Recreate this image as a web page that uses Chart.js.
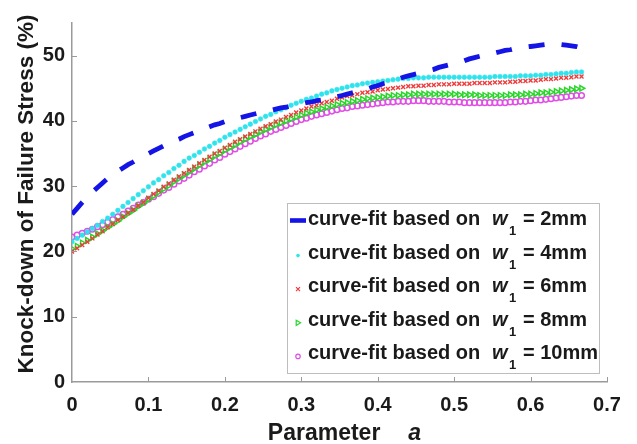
<!DOCTYPE html>
<html>
<head>
<meta charset="utf-8">
<script src="https://cdn.jsdelivr.net/npm/chart.js@4.4.1/dist/chart.umd.min.js"></script>
<style>
  html, body { margin: 0; padding: 0; background: #ffffff; }
  #wrap { width: 637px; height: 444px; position: relative; }
</style>
</head>
<body>
<div id="wrap"><canvas id="chart"></canvas></div>
<script>
// Sampling of the parameter a (0 .. 2/3, 101 fit points)
const paramA = Array.from({ length: 101 }, (_, i) => i / 150);

// Axis ticks
const xTicks = [0, 0.1, 0.2, 0.3, 0.4, 0.5, 0.6, 0.7];
const yTicks = [0, 10, 20, 30, 40, 50];

// Strip widths shown in the legend
const stripWidths = ['2mm', '4mm', '6mm', '8mm', '10mm'];

// Knock-down of failure stress (%) from each curve fit
const fit2mm = [
  25.7, 26.6, 27.5, 28.3, 29.1, 29.8, 30.5, 31.2, 31.8, 32.3,
  32.8, 33.3, 33.7, 34.2, 34.6, 35.0, 35.4, 35.8, 36.2, 36.5,
  36.9, 37.2, 37.6, 37.9, 38.2, 38.5, 38.8, 39.1, 39.4, 39.6,
  39.9, 40.1, 40.3, 40.5, 40.7, 40.9, 41.1, 41.3, 41.5, 41.6,
  41.8, 42.0, 42.1, 42.3, 42.5, 42.6, 42.8, 42.9, 43.1, 43.2,
  43.4, 43.5, 43.7, 43.9, 44.1, 44.3, 44.5, 44.7, 44.9, 45.2,
  45.4, 45.7, 45.9, 46.2, 46.4, 46.7, 46.9, 47.1, 47.3, 47.5,
  47.7, 47.9, 48.2, 48.4, 48.6, 48.8, 49.0, 49.2, 49.5, 49.7,
  49.9, 50.1, 50.3, 50.4, 50.6, 50.8, 50.9, 51.1, 51.2, 51.3,
  51.4, 51.5, 51.6, 51.7, 51.7, 51.7, 51.7, 51.6, 51.5, 51.4, 51.2
];
const fit4mm = [
  21.5, 22.0, 22.5, 23.0, 23.5, 24.0, 24.6, 25.1, 25.7, 26.3,
  26.9, 27.5, 28.1, 28.7, 29.3, 29.9, 30.5, 31.0, 31.6, 32.1,
  32.7, 33.2, 33.8, 34.3, 34.7, 35.2, 35.7, 36.1, 36.6, 37.0,
  37.5, 37.9, 38.3, 38.7, 39.1, 39.5, 39.9, 40.3, 40.7, 41.0,
  41.4, 41.7, 42.0, 42.4, 42.7, 43.0, 43.3, 43.5, 43.8, 44.1,
  44.3, 44.6, 44.8, 45.0, 45.2, 45.4, 45.5, 45.7, 45.8, 45.9,
  46.0, 46.1, 46.2, 46.3, 46.4, 46.5, 46.5, 46.6, 46.6, 46.6,
  46.7, 46.7, 46.7, 46.7, 46.7, 46.7, 46.7, 46.7, 46.7, 46.7,
  46.7, 46.7, 46.7, 46.8, 46.8, 46.8, 46.8, 46.8, 46.9, 46.9,
  46.9, 47.0, 47.0, 47.1, 47.1, 47.2, 47.3, 47.3, 47.4, 47.5, 47.5
];
const fit6mm = [
  20.0, 20.5, 21.0, 21.5, 22.0, 22.6, 23.1, 23.7, 24.2, 24.8,
  25.3, 25.9, 26.4, 27.0, 27.5, 28.2, 28.8, 29.3, 29.9, 30.4,
  31.0, 31.5, 32.0, 32.5, 33.0, 33.5, 34.0, 34.5, 35.0, 35.4,
  35.9, 36.3, 36.8, 37.2, 37.6, 38.0, 38.4, 38.8, 39.2, 39.5,
  39.9, 40.2, 40.6, 40.9, 41.3, 41.6, 41.9, 42.2, 42.4, 42.7,
  42.9, 43.1, 43.4, 43.6, 43.8, 43.9, 44.1, 44.3, 44.4, 44.5,
  44.7, 44.8, 44.9, 45.0, 45.1, 45.2, 45.3, 45.3, 45.4, 45.4,
  45.5, 45.5, 45.6, 45.6, 45.6, 45.7, 45.7, 45.7, 45.7, 45.8,
  45.8, 45.8, 45.8, 45.9, 45.9, 45.9, 46.0, 46.0, 46.1, 46.1,
  46.2, 46.2, 46.3, 46.4, 46.4, 46.5, 46.6, 46.6, 46.7, 46.8, 46.8
];
const fit8mm = [
  20.4, 20.8, 21.3, 21.7, 22.2, 22.7, 23.2, 23.7, 24.2, 24.7,
  25.3, 25.8, 26.3, 26.9, 27.4, 28.0, 28.5, 29.1, 29.6, 30.1,
  30.7, 31.2, 31.7, 32.2, 32.7, 33.2, 33.7, 34.1, 34.6, 35.0,
  35.5, 35.9, 36.3, 36.8, 37.2, 37.6, 37.9, 38.3, 38.7, 39.0,
  39.4, 39.7, 40.0, 40.3, 40.6, 40.9, 41.2, 41.4, 41.7, 41.9,
  42.1, 42.3, 42.5, 42.7, 42.8, 43.0, 43.1, 43.3, 43.4, 43.5,
  43.6, 43.7, 43.8, 43.9, 43.9, 44.0, 44.0, 44.1, 44.1, 44.1,
  44.1, 44.1, 44.1, 44.1, 44.1, 44.1, 44.0, 44.0, 44.0, 44.0,
  43.9, 43.9, 43.9, 43.9, 43.9, 43.9, 44.0, 44.0, 44.0, 44.1,
  44.1, 44.2, 44.3, 44.3, 44.4, 44.5, 44.6, 44.7, 44.8, 44.9, 45.0
];
const fit10mm = [
  22.2, 22.5, 22.8, 23.1, 23.4, 23.8, 24.1, 24.5, 24.9, 25.3,
  25.7, 26.2, 26.6, 27.1, 27.5, 28.0, 28.4, 28.9, 29.4, 29.8,
  30.3, 30.8, 31.2, 31.7, 32.2, 32.6, 33.1, 33.5, 34.0, 34.4,
  34.9, 35.3, 35.7, 36.1, 36.5, 36.9, 37.3, 37.7, 38.0, 38.4,
  38.7, 39.0, 39.3, 39.6, 39.9, 40.2, 40.4, 40.7, 40.9, 41.1,
  41.3, 41.5, 41.7, 41.9, 42.0, 42.2, 42.3, 42.4, 42.5, 42.6,
  42.7, 42.8, 42.9, 42.9, 43.0, 43.0, 43.0, 43.1, 43.1, 43.1,
  43.0, 43.0, 43.0, 43.0, 42.9, 42.9, 42.9, 42.8, 42.8, 42.8,
  42.8, 42.8, 42.8, 42.8, 42.8, 42.8, 42.9, 42.9, 43.0, 43.0,
  43.1, 43.2, 43.2, 43.3, 43.4, 43.5, 43.6, 43.7, 43.8, 43.9, 43.9
];

const FONT = '"Liberation Sans", Arial, Helvetica, sans-serif';
const toPoints = (ys) => paramA.map((a, i) => ({ x: a, y: ys[i] }));

const seriesStyles = [
  { color: '#1414e6', line: true },
  { color: '#2ee3ec', pointStyle: 'circle', radius: 2.3, filled: true, border: 0.6 },
  { color: '#ee3c3c', pointStyle: 'crossRot', radius: 2.8, border: 1.4 },
  { color: '#2bd62b', pointStyle: 'triangle', radius: 3.2, rotation: 90, border: 1.5 },
  { color: '#e04ee6', pointStyle: 'circle', radius: 2.8, border: 1.5 }
];
const seriesValues = [fit2mm, fit4mm, fit6mm, fit8mm, fit10mm];

const datasets = seriesValues.map((ys, k) => {
  const s = seriesStyles[k];
  const label = 'curve-fit based on w1 = ' + stripWidths[k];
  if (s.line) {
    return {
      label, data: toPoints(ys), showLine: true,
      borderColor: s.color, borderWidth: 4.8, borderDash: [16, 17],
      borderCapStyle: 'butt', pointRadius: 0, tension: 0, fill: false
    };
  }
  return {
    label, data: toPoints(ys), showLine: false,
    pointStyle: s.pointStyle, pointRadius: s.radius, pointRotation: s.rotation || 0,
    pointBorderColor: s.color, pointBorderWidth: s.border,
    pointBackgroundColor: s.filled ? s.color : 'rgba(0,0,0,0)',
    borderColor: s.color, backgroundColor: s.filled ? s.color : 'rgba(0,0,0,0)'
  };
});

// Inward tick marks on the left and bottom axes
const innerTicks = {
  id: 'innerTicks',
  afterDraw(chart) {
    const { ctx, chartArea: ca, scales } = chart;
    ctx.save();
    ctx.strokeStyle = '#9a9a9a';
    ctx.lineWidth = 1;
    xTicks.forEach(v => {
      if (v === 0) return;
      const px = Math.round(scales.x.getPixelForValue(v)) + 0.5;
      ctx.beginPath(); ctx.moveTo(px, ca.bottom); ctx.lineTo(px, ca.bottom - 5); ctx.stroke();
    });
    yTicks.forEach(v => {
      if (v === 0) return;
      const py = Math.round(scales.y.getPixelForValue(v)) + 0.5;
      ctx.beginPath(); ctx.moveTo(ca.left, py); ctx.lineTo(ca.left + 5, py); ctx.stroke();
    });
    ctx.restore();
  }
};

// Axis titles (the x title mixes upright and italic text)
const axisTitles = {
  id: 'axisTitles',
  afterDraw(chart) {
    const { ctx, chartArea: ca } = chart;
    ctx.save();
    ctx.fillStyle = '#1a1a1a';
    ctx.font = 'bold 23px ' + FONT;
    ctx.textBaseline = 'alphabetic';
    ctx.textAlign = 'left';
    const word = 'Parameter';
    const wordW = ctx.measureText(word).width;
    ctx.font = 'italic bold 23px ' + FONT;
    const aW = ctx.measureText('a').width;
    const gap = 28;
    const total = wordW + gap + aW;
    const startX = (ca.left + ca.right) / 2 + 5 - total / 2;
    ctx.font = 'bold 23px ' + FONT;
    ctx.fillText(word, startX, 440);
    ctx.font = 'italic bold 23px ' + FONT;
    ctx.fillText('a', startX + wordW + gap, 440);

    ctx.font = 'bold 22.5px ' + FONT;
    ctx.translate(33, 194);
    ctx.rotate(-Math.PI / 2);
    ctx.textAlign = 'center';
    ctx.fillText('Knock-down of Failure Stress (%)', 0, 0);
    ctx.restore();
  }
};

// Small legend symbols
function legendSymbol(ctx, s, x, y) {
  ctx.save();
  ctx.strokeStyle = s.color;
  ctx.fillStyle = s.color;
  ctx.setLineDash([]);
  if (s.line) {
    ctx.lineWidth = 4.6;
    ctx.beginPath(); ctx.moveTo(290, y); ctx.lineTo(306, y); ctx.stroke();
  } else if (s.pointStyle === 'circle' && s.filled) {
    ctx.beginPath(); ctx.arc(x, y, 1.8, 0, Math.PI * 2); ctx.fill();
  } else if (s.pointStyle === 'crossRot') {
    ctx.lineWidth = 1.2;
    ctx.beginPath();
    ctx.moveTo(x - 2, y - 2); ctx.lineTo(x + 2, y + 2);
    ctx.moveTo(x - 2, y + 2); ctx.lineTo(x + 2, y - 2);
    ctx.stroke();
  } else if (s.pointStyle === 'triangle') {
    ctx.lineWidth = 1.2;
    ctx.beginPath();
    ctx.moveTo(x - 1.8, y - 2.6); ctx.lineTo(x + 2.6, y); ctx.lineTo(x - 1.8, y + 2.6);
    ctx.closePath(); ctx.stroke();
  } else {
    ctx.lineWidth = 1.2;
    ctx.beginPath(); ctx.arc(x, y, 2.2, 0, Math.PI * 2); ctx.stroke();
  }
  ctx.restore();
}

// Boxed legend with an italic w and subscript 1
const fitLegend = {
  id: 'fitLegend',
  afterDraw(chart) {
    const { ctx, chartArea: ca } = chart;
    const box = { l: 287, t: 203, r: ca.right - 7, b: ca.bottom - 8 };
    const rowH = 33.6;
    const firstRow = box.t + 16.5;
    ctx.save();
    ctx.fillStyle = '#ffffff';
    ctx.fillRect(box.l, box.t, box.r - box.l, box.b - box.t);
    ctx.strokeStyle = '#bdbdbd';
    ctx.lineWidth = 1;
    ctx.strokeRect(box.l + 0.5, box.t + 0.5, box.r - box.l - 1, box.b - box.t - 1);

    seriesStyles.forEach((s, k) => {
      const y = firstRow + k * rowH;
      legendSymbol(ctx, s, 298, s.line ? y + 1 : y + 2.5);
      ctx.fillStyle = '#1a1a1a';
      ctx.textBaseline = 'middle';
      ctx.textAlign = 'left';
      ctx.font = 'bold 20px ' + FONT;
      ctx.fillText('curve-fit based on', 308, y);
      ctx.font = 'italic bold 20px ' + FONT;
      ctx.fillText('w', 492, y);
      ctx.font = 'bold 13px ' + FONT;
      ctx.fillText('1', 509, y + 12);
      ctx.font = 'bold 20px ' + FONT;
      ctx.fillText('= ' + stripWidths[k], 523, y);
    });
    ctx.restore();
  }
};

new Chart(document.getElementById('chart'), {
  type: 'scatter',
  data: { datasets },
  options: {
    responsive: true,
    maintainAspectRatio: false,
    animation: false,
    events: [],
    layout: { padding: { top: 23, right: 30, left: 0, bottom: 0 } },
    plugins: { legend: { display: false }, tooltip: { enabled: false } },
    scales: {
      x: {
        type: 'linear', min: 0, max: 0.7, offset: false,
        afterBuildTicks: (s) => { s.ticks = xTicks.map(v => ({ value: v })); },
        afterFit: (s) => { s.height = 62; },
        grid: { display: false, drawTicks: false },
        border: { display: true, color: '#9a9a9a', width: 1.5 },
        ticks: {
          padding: 11, color: '#1a1a1a', maxRotation: 0, autoSkip: false,
          font: { family: FONT, size: 20, weight: 'bold' },
          callback: (v) => String(Math.round(v * 10) / 10)
        }
      },
      y: {
        type: 'linear', min: 0, max: 55,
        afterBuildTicks: (s) => { s.ticks = yTicks.map(v => ({ value: v })); },
        afterFit: (s) => { s.width = 72; },
        grid: { display: false, drawTicks: false },
        border: { display: true, color: '#9a9a9a', width: 1.5 },
        ticks: {
          padding: 7, color: '#1a1a1a', autoSkip: false,
          font: { family: FONT, size: 20, weight: 'bold' }
        }
      }
    }
  },
  plugins: [innerTicks, axisTitles, fitLegend]
});
</script>
</body>
</html>
